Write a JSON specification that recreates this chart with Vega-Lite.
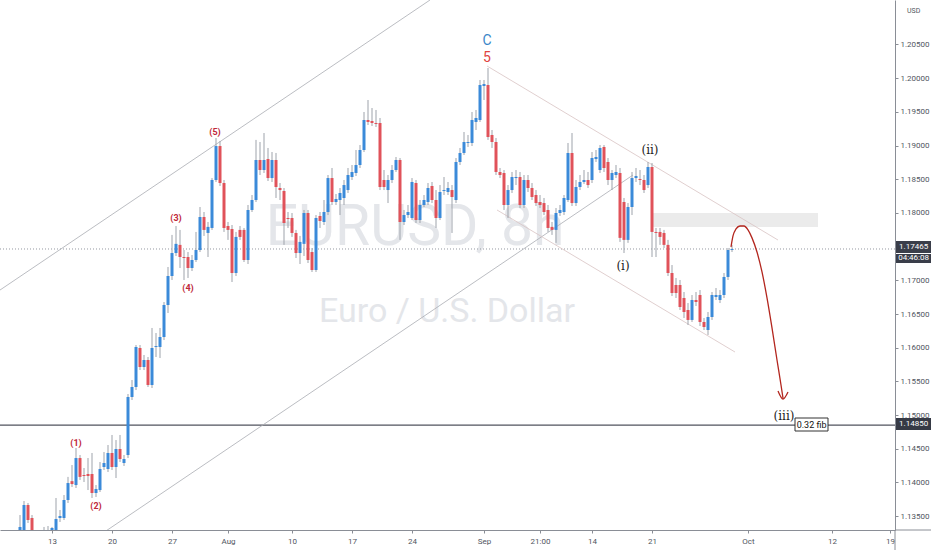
{
"$schema":"https://vega.github.io/schema/vega-lite/v6.json",
"width":895,"height":530,"autosize":{"type":"none"},"padding":{"left":0,"top":0,"right":37,"bottom":20},"background":"white",
"config":{"view":{"stroke":null},"font":"Roboto",
 "axisX":{"title":null,"grid":false,"domainColor":"#8a8e96","tickColor":"#8a8e96","tickSize":3,"labelFontSize":8,"labelColor":"#505560","labelPadding":4,"labelFont":"Roboto"},
 "axisY":{"title":null,"grid":false,"domainColor":"#8a8e96","tickColor":"#8a8e96","tickSize":3,"labelFontSize":8,"labelColor":"#505560","labelPadding":2,"labelFont":"Roboto"}},
"datasets":{
"candles":[
{"i":-8,"o":1.13295,"h":1.13517,"l":1.13221,"c":1.1334},
{"i":-7,"o":1.13295,"h":1.13725,"l":1.1325,"c":1.13666},
{"i":-6,"o":1.13666,"h":1.13696,"l":1.13399,"c":1.13443},
{"i":-5,"o":1.13473,"h":1.13517,"l":1.13146,"c":1.13221},
{"i":-4,"o":1.13221,"h":1.13265,"l":1.12998,"c":1.13072},
{"i":-3,"o":1.13072,"h":1.13221,"l":1.12924,"c":1.13146},
{"i":-2,"o":1.13146,"h":1.1334,"l":1.13072,"c":1.13221},
{"i":-1,"o":1.13206,"h":1.13354,"l":1.13146,"c":1.13265},
{"i":0,"o":1.1325,"h":1.1334,"l":1.13176,"c":1.13325},
{"i":1,"o":1.13295,"h":1.1377,"l":1.1325,"c":1.13458},
{"i":2,"o":1.13473,"h":1.13592,"l":1.13414,"c":1.13503},
{"i":3,"o":1.13473,"h":1.13814,"l":1.13443,"c":1.1374},
{"i":4,"o":1.1374,"h":1.14083,"l":1.13696,"c":1.13992},
{"i":5,"o":1.1402,"h":1.14259,"l":1.13933,"c":1.13977},
{"i":6,"o":1.13962,"h":1.14512,"l":1.13918,"c":1.14363},
{"i":7,"o":1.14363,"h":1.14408,"l":1.14038,"c":1.14083},
{"i":8,"o":1.14111,"h":1.14215,"l":1.14007,"c":1.14096},
{"i":9,"o":1.14126,"h":1.14363,"l":1.13888,"c":1.14096},
{"i":10,"o":1.14126,"h":1.14438,"l":1.1377,"c":1.13844},
{"i":11,"o":1.13844,"h":1.13962,"l":1.13785,"c":1.13903},
{"i":12,"o":1.13888,"h":1.14304,"l":1.13859,"c":1.142},
{"i":13,"o":1.1423,"h":1.14452,"l":1.14185,"c":1.14289},
{"i":14,"o":1.142,"h":1.14556,"l":1.14156,"c":1.14438},
{"i":15,"o":1.14438,"h":1.14705,"l":1.14185,"c":1.1423},
{"i":16,"o":1.1423,"h":1.1463,"l":1.14066,"c":1.14497},
{"i":17,"o":1.14497,"h":1.14705,"l":1.14304,"c":1.14349},
{"i":18,"o":1.14289,"h":1.14408,"l":1.14245,"c":1.14349},
{"i":19,"o":1.14408,"h":1.15313,"l":1.14363,"c":1.15269},
{"i":20,"o":1.15269,"h":1.15521,"l":1.15224,"c":1.15417},
{"i":21,"o":1.15417,"h":1.1604,"l":1.15372,"c":1.16011},
{"i":22,"o":1.15996,"h":1.1604,"l":1.15669,"c":1.15714},
{"i":23,"o":1.15714,"h":1.15892,"l":1.15669,"c":1.15818},
{"i":24,"o":1.15818,"h":1.15862,"l":1.15417,"c":1.15447},
{"i":25,"o":1.15447,"h":1.16293,"l":1.15402,"c":1.15996},
{"i":26,"o":1.16011,"h":1.16218,"l":1.15862,"c":1.16025},
{"i":27,"o":1.16011,"h":1.16293,"l":1.15847,"c":1.16159},
{"i":28,"o":1.16159,"h":1.16678,"l":1.16114,"c":1.16634},
{"i":29,"o":1.16634,"h":1.17198,"l":1.16515,"c":1.17064},
{"i":30,"o":1.17064,"h":1.17674,"l":1.17005,"c":1.17405},
{"i":31,"o":1.17405,"h":1.17806,"l":1.17361,"c":1.17541},
{"i":32,"o":1.17526,"h":1.17748,"l":1.17183,"c":1.17346},
{"i":33,"o":1.17346,"h":1.1745,"l":1.17005,"c":1.17331},
{"i":34,"o":1.17346,"h":1.1742,"l":1.17035,"c":1.17183},
{"i":35,"o":1.17183,"h":1.17376,"l":1.17138,"c":1.17302},
{"i":36,"o":1.17302,"h":1.17718,"l":1.17272,"c":1.1745},
{"i":37,"o":1.1745,"h":1.18088,"l":1.1742,"c":1.1794},
{"i":38,"o":1.1794,"h":1.18014,"l":1.17659,"c":1.17748},
{"i":39,"o":1.17703,"h":1.17866,"l":1.17346,"c":1.17793},
{"i":40,"o":1.17777,"h":1.18518,"l":1.17748,"c":1.18489},
{"i":41,"o":1.18489,"h":1.19112,"l":1.18459,"c":1.18993},
{"i":42,"o":1.18993,"h":1.19068,"l":1.184,"c":1.18444},
{"i":43,"o":1.18444,"h":1.18489,"l":1.17718,"c":1.17777},
{"i":44,"o":1.17806,"h":1.17866,"l":1.176,"c":1.17748},
{"i":45,"o":1.17762,"h":1.17821,"l":1.16975,"c":1.17109},
{"i":46,"o":1.17109,"h":1.17718,"l":1.17064,"c":1.17644},
{"i":47,"o":1.17748,"h":1.17806,"l":1.176,"c":1.17644},
{"i":48,"o":1.17748,"h":1.17777,"l":1.17272,"c":1.17302},
{"i":49,"o":1.17302,"h":1.18118,"l":1.17242,"c":1.18044},
{"i":50,"o":1.18044,"h":1.18266,"l":1.18014,"c":1.18192},
{"i":51,"o":1.18192,"h":1.19084,"l":1.18162,"c":1.18786},
{"i":52,"o":1.18786,"h":1.19053,"l":1.18563,"c":1.18637},
{"i":53,"o":1.18637,"h":1.19186,"l":1.18593,"c":1.18786},
{"i":54,"o":1.188,"h":1.18964,"l":1.18474,"c":1.18518},
{"i":55,"o":1.18518,"h":1.18904,"l":1.18459,"c":1.18786},
{"i":56,"o":1.18786,"h":1.1889,"l":1.18222,"c":1.18385},
{"i":57,"o":1.1837,"h":1.18444,"l":1.18192,"c":1.1834},
{"i":58,"o":1.18326,"h":1.1837,"l":1.17526,"c":1.17851},
{"i":59,"o":1.17925,"h":1.18014,"l":1.17777,"c":1.1791},
{"i":60,"o":1.17925,"h":1.17999,"l":1.17644,"c":1.17703},
{"i":61,"o":1.17703,"h":1.17748,"l":1.17331,"c":1.17405},
{"i":62,"o":1.17405,"h":1.17659,"l":1.17242,"c":1.1757},
{"i":63,"o":1.17541,"h":1.18044,"l":1.17361,"c":1.17999},
{"i":64,"o":1.17999,"h":1.18044,"l":1.17257,"c":1.17302},
{"i":65,"o":1.1742,"h":1.1748,"l":1.17124,"c":1.17153},
{"i":66,"o":1.17153,"h":1.17969,"l":1.17124,"c":1.17925},
{"i":67,"o":1.17955,"h":1.18014,"l":1.17777,"c":1.1788},
{"i":68,"o":1.17866,"h":1.18192,"l":1.17821,"c":1.18014},
{"i":69,"o":1.18014,"h":1.18563,"l":1.17969,"c":1.18518},
{"i":70,"o":1.18518,"h":1.18667,"l":1.18118,"c":1.18162},
{"i":71,"o":1.18162,"h":1.18281,"l":1.18118,"c":1.18207},
{"i":72,"o":1.18192,"h":1.1837,"l":1.17969,"c":1.18296},
{"i":73,"o":1.18222,"h":1.18489,"l":1.18118,"c":1.18414},
{"i":74,"o":1.1834,"h":1.18667,"l":1.18296,"c":1.18563},
{"i":75,"o":1.18533,"h":1.18711,"l":1.18489,"c":1.18608},
{"i":76,"o":1.18593,"h":1.18934,"l":1.18548,"c":1.18711},
{"i":77,"o":1.18711,"h":1.19008,"l":1.18667,"c":1.18934},
{"i":78,"o":1.18934,"h":1.19498,"l":1.18904,"c":1.19379},
{"i":79,"o":1.19379,"h":1.19676,"l":1.19305,"c":1.1935},
{"i":80,"o":1.19364,"h":1.19557,"l":1.1929,"c":1.19335},
{"i":81,"o":1.19335,"h":1.19528,"l":1.19275,"c":1.1932},
{"i":82,"o":1.19335,"h":1.19409,"l":1.1834,"c":1.18385},
{"i":83,"o":1.18489,"h":1.18637,"l":1.1834,"c":1.18385},
{"i":84,"o":1.1834,"h":1.18563,"l":1.18147,"c":1.18489},
{"i":85,"o":1.18489,"h":1.18711,"l":1.18444,"c":1.18637},
{"i":86,"o":1.18637,"h":1.1883,"l":1.18608,"c":1.18786},
{"i":87,"o":1.18786,"h":1.18815,"l":1.176,"c":1.17866},
{"i":88,"o":1.17866,"h":1.18044,"l":1.17821,"c":1.17969},
{"i":89,"o":1.17969,"h":1.18118,"l":1.17925,"c":1.18014},
{"i":90,"o":1.17925,"h":1.18518,"l":1.17895,"c":1.18459},
{"i":91,"o":1.18444,"h":1.18489,"l":1.17851,"c":1.17895},
{"i":92,"o":1.17895,"h":1.18192,"l":1.17851,"c":1.18118},
{"i":93,"o":1.18118,"h":1.18266,"l":1.18088,"c":1.18192},
{"i":94,"o":1.18162,"h":1.18444,"l":1.18118,"c":1.1837},
{"i":95,"o":1.184,"h":1.18459,"l":1.18147,"c":1.18192},
{"i":96,"o":1.18192,"h":1.1834,"l":1.17777,"c":1.17925},
{"i":97,"o":1.17925,"h":1.18414,"l":1.17895,"c":1.18311},
{"i":98,"o":1.18326,"h":1.18533,"l":1.18266,"c":1.1834},
{"i":99,"o":1.18311,"h":1.18459,"l":1.18266,"c":1.1837},
{"i":100,"o":1.1834,"h":1.18414,"l":1.17703,"c":1.18237},
{"i":101,"o":1.18192,"h":1.18815,"l":1.18147,"c":1.18756},
{"i":102,"o":1.18756,"h":1.18964,"l":1.18711,"c":1.1889},
{"i":103,"o":1.1889,"h":1.19201,"l":1.1886,"c":1.19053},
{"i":104,"o":1.19038,"h":1.19157,"l":1.18979,"c":1.19053},
{"i":105,"o":1.19038,"h":1.19498,"l":1.18993,"c":1.19379},
{"i":106,"o":1.1935,"h":1.19528,"l":1.19231,"c":1.19409},
{"i":107,"o":1.19379,"h":1.19973,"l":1.1935,"c":1.19899},
{"i":108,"o":1.19884,"h":1.19973,"l":1.19676,"c":1.19913},
{"i":109,"o":1.19899,"h":1.20151,"l":1.19084,"c":1.19127},
{"i":110,"o":1.19157,"h":1.19231,"l":1.18964,"c":1.19053},
{"i":111,"o":1.19053,"h":1.19112,"l":1.18563,"c":1.18608},
{"i":112,"o":1.18608,"h":1.18667,"l":1.18518,"c":1.18563},
{"i":113,"o":1.18593,"h":1.18637,"l":1.18044,"c":1.18118},
{"i":114,"o":1.18118,"h":1.18414,"l":1.17925,"c":1.1834},
{"i":115,"o":1.1834,"h":1.18608,"l":1.18296,"c":1.18533},
{"i":116,"o":1.18518,"h":1.18637,"l":1.18414,"c":1.18533},
{"i":117,"o":1.18533,"h":1.18608,"l":1.18073,"c":1.18118},
{"i":118,"o":1.18118,"h":1.18563,"l":1.18073,"c":1.18489},
{"i":119,"o":1.18489,"h":1.18563,"l":1.18311,"c":1.1837},
{"i":120,"o":1.1837,"h":1.18444,"l":1.18192,"c":1.18237},
{"i":121,"o":1.18266,"h":1.1834,"l":1.18103,"c":1.18147},
{"i":122,"o":1.18162,"h":1.18266,"l":1.18073,"c":1.18118},
{"i":123,"o":1.18147,"h":1.18222,"l":1.17969,"c":1.18014},
{"i":124,"o":1.18044,"h":1.18118,"l":1.17718,"c":1.17777},
{"i":125,"o":1.17793,"h":1.17866,"l":1.17674,"c":1.17748},
{"i":126,"o":1.17748,"h":1.18073,"l":1.17556,"c":1.17999},
{"i":127,"o":1.17999,"h":1.18118,"l":1.17955,"c":1.18044},
{"i":128,"o":1.18014,"h":1.18266,"l":1.17969,"c":1.18222},
{"i":129,"o":1.18192,"h":1.19038,"l":1.18162,"c":1.1889},
{"i":130,"o":1.1889,"h":1.19186,"l":1.18103,"c":1.18147},
{"i":131,"o":1.18147,"h":1.18489,"l":1.18103,"c":1.18385},
{"i":132,"o":1.18385,"h":1.18563,"l":1.1834,"c":1.18459},
{"i":133,"o":1.18459,"h":1.18637,"l":1.18429,"c":1.18489},
{"i":134,"o":1.18489,"h":1.18608,"l":1.1837,"c":1.18414},
{"i":135,"o":1.18489,"h":1.18904,"l":1.18444,"c":1.18815},
{"i":136,"o":1.188,"h":1.18934,"l":1.18756,"c":1.1883},
{"i":137,"o":1.18637,"h":1.19008,"l":1.18593,"c":1.18964},
{"i":138,"o":1.18979,"h":1.19008,"l":1.18608,"c":1.18667},
{"i":139,"o":1.18756,"h":1.18815,"l":1.18414,"c":1.18489},
{"i":140,"o":1.18489,"h":1.18637,"l":1.1834,"c":1.18593},
{"i":141,"o":1.18563,"h":1.18711,"l":1.18518,"c":1.18608},
{"i":142,"o":1.18593,"h":1.18667,"l":1.1757,"c":1.1763},
{"i":143,"o":1.18162,"h":1.18222,"l":1.17405,"c":1.176},
{"i":144,"o":1.176,"h":1.18147,"l":1.17556,"c":1.18088},
{"i":145,"o":1.18088,"h":1.18608,"l":1.17969,"c":1.18518},
{"i":146,"o":1.18518,"h":1.18667,"l":1.18459,"c":1.18548},
{"i":147,"o":1.18504,"h":1.18637,"l":1.18414,"c":1.18489},
{"i":148,"o":1.18489,"h":1.18563,"l":1.18296,"c":1.1834},
{"i":149,"o":1.18414,"h":1.18756,"l":1.1837,"c":1.18682},
{"i":150,"o":1.18682,"h":1.18741,"l":1.17346,"c":1.17718},
{"i":151,"o":1.17718,"h":1.17777,"l":1.17346,"c":1.17703},
{"i":152,"o":1.17718,"h":1.17777,"l":1.17526,"c":1.17644},
{"i":153,"o":1.17703,"h":1.17748,"l":1.1748,"c":1.17526},
{"i":154,"o":1.17526,"h":1.176,"l":1.17064,"c":1.17109},
{"i":155,"o":1.17109,"h":1.17227,"l":1.16767,"c":1.16812},
{"i":156,"o":1.16931,"h":1.17035,"l":1.16738,"c":1.16812},
{"i":157,"o":1.16931,"h":1.17005,"l":1.1656,"c":1.16604},
{"i":158,"o":1.16738,"h":1.16827,"l":1.16441,"c":1.1653},
{"i":159,"o":1.1656,"h":1.16663,"l":1.16337,"c":1.16412},
{"i":160,"o":1.16412,"h":1.16782,"l":1.16382,"c":1.16708},
{"i":161,"o":1.16708,"h":1.16827,"l":1.16619,"c":1.16678},
{"i":162,"o":1.16782,"h":1.16856,"l":1.16322,"c":1.16382},
{"i":163,"o":1.16382,"h":1.16441,"l":1.16263,"c":1.16307},
{"i":164,"o":1.16263,"h":1.1653,"l":1.16189,"c":1.16456},
{"i":165,"o":1.16456,"h":1.16827,"l":1.16412,"c":1.16782},
{"i":166,"o":1.16753,"h":1.16886,"l":1.16708,"c":1.16782},
{"i":167,"o":1.16708,"h":1.16856,"l":1.16663,"c":1.16782},
{"i":168,"o":1.16782,"h":1.17109,"l":1.16738,"c":1.1705},
{"i":169,"o":1.1705,"h":1.1748,"l":1.17005,"c":1.1745},
{"i":170,"o":1.1745,"h":1.17526,"l":1.1742,"c":1.17465}
],
"trend":[
{"g":"up1","i":-13,"p":1.16856},{"g":"up1","i":94.5,"p":1.2116},
{"g":"up2","i":12,"p":1.13221},{"g":"up2","i":145.25,"p":1.18563},
{"g":"dn1","i":108.75,"p":1.20181},{"g":"dn1","i":181.5,"p":1.17598},
{"g":"dn2","i":111.25,"p":1.18044},{"g":"dn2","i":170.75,"p":1.15936}
],
"arrow":[
{"g":"a","i":169.75,"p":1.17495},{"g":"a","i":170.25,"p":1.17659},{"g":"a","i":171,"p":1.17762},{"g":"a","i":172,"p":1.17806},{"g":"a","i":173,"p":1.17806},{"g":"a","i":174,"p":1.17748},{"g":"a","i":175,"p":1.1763},{"g":"a","i":176.25,"p":1.1742},{"g":"a","i":177.5,"p":1.17124},{"g":"a","i":178.75,"p":1.16738},{"g":"a","i":180,"p":1.16293},{"g":"a","i":181.25,"p":1.15818},{"g":"a","i":182.25,"p":1.15447},{"g":"a","i":182.75,"p":1.15253},
{"g":"h","i":181.5,"p":1.15358},{"g":"h","i":182.75,"p":1.15239},{"g":"h","i":184,"p":1.15343}
],
"redwave":[
{"t":"(5)","i":40.75,"p":1.19201},{"t":"(3)","i":31,"p":1.17925},{"t":"(4)","i":34,"p":1.16886},{"t":"(1)","i":6,"p":1.14586},{"t":"(2)","i":11,"p":1.13651}
],
"blackwave":[
{"t":"(ii)","i":149.5,"p":1.18934},{"t":"(i)","i":142.75,"p":1.17213},{"t":"(iii)","i":183,"p":1.14987}
]
},
"layer":[
{"data":{"values":[{"t":"EURUSD, 8h","i":90.75,"p":1.17777,"s":57},{"t":"Euro / U.S. Dollar","i":98.75,"p":1.1653,"s":34}]},
 "mark":{"type":"text","color":"#e4e6ea","align":"center","baseline":"middle","font":"Roboto"},
 "encoding":{"x":{"field":"i","type":"quantitative","scale":{"domain":[-13,210.75],"nice":false,"zero":false,"padding":0},
   "axis":{"title":null,"values":[0,15,30,44,60,75,90,108,122,135,150,174,195,209.5],
     "labelExpr":"['13','20','27','Aug','10','17','24','Sep','21:00','14','21','Oct','12','19'][indexof([0,15,30,44,60,75,90,108,122,135,150,174,195,209.5], datum.value)]"}},
  "y":{"field":"p","type":"quantitative","scale":{"domain":[1.13295,1.2116],"nice":false,"zero":false,"padding":0},
   "axis":{"title":null,"orient":"right","values":[1.135,1.14,1.145,1.15,1.155,1.16,1.165,1.17,1.18,1.185,1.19,1.195,1.2,1.205],"format":".5f"}},
  "text":{"field":"t"},"size":{"field":"s","type":"quantitative","scale":null}}},
{"data":{"values":[{"i1":150.25,"i2":191.5,"p1":1.17999,"p2":1.17792}]},
 "mark":{"type":"rect","color":"#ebebeb"},
 "encoding":{"x":{"field":"i1","type":"quantitative","axis":{"title":null}},"x2":{"field":"i2"},"y":{"field":"p1","type":"quantitative","axis":{"title":null}},"y2":{"field":"p2"}}},
{"data":{"values":[{"p":1.17465}]},"mark":{"type":"rule","color":"#9598a1","strokeDash":[1,2],"strokeWidth":1},"encoding":{"y":{"field":"p","type":"quantitative","axis":{"title":null}}}},
{"data":{"values":[{"p":1.1485}]},"mark":{"type":"rule","color":"#50535e","strokeWidth":1.3},"encoding":{"y":{"field":"p","type":"quantitative","axis":{"title":null}}}},
{"data":{"values":[{"i1":210.75,"i2":219.75,"p1":1.13295,"p2":1.13295},{"i1":210.75,"i2":210.75,"p1":1.13295,"p2":1.12998}]},
 "mark":{"type":"rule","color":"#8a8e96","strokeWidth":1,"clip":false},
 "encoding":{"x":{"field":"i1","type":"quantitative","axis":{"title":null}},"x2":{"field":"i2"},"y":{"field":"p1","type":"quantitative","axis":{"title":null}},"y2":{"field":"p2"}}},
{"data":{"name":"trend"},
 "mark":{"type":"line","strokeWidth":0.8,"clip":true},
 "encoding":{"x":{"field":"i","type":"quantitative","axis":{"title":null}},"y":{"field":"p","type":"quantitative","axis":{"title":null}},"detail":{"field":"g"},
  "color":{"field":"g","type":"nominal","legend":null,"scale":{"domain":["up1","up2","dn1","dn2"],"range":["#a9acb3","#a9acb3","#d8c3c3","#d8c3c3"]}}}},
{"data":{"name":"candles"},
 "mark":{"type":"rule","strokeWidth":1,"color":"#9ea3ab","clip":true},
 "encoding":{"x":{"field":"i","type":"quantitative","axis":{"title":null}},"y":{"field":"l","type":"quantitative","axis":{"title":null}},"y2":{"field":"h"}}},
{"data":{"name":"candles"},
 "mark":{"type":"bar","size":3,"clip":true},
 "encoding":{"x":{"field":"i","type":"quantitative","axis":{"title":null}},"y":{"field":"o","type":"quantitative","axis":{"title":null}},"y2":{"field":"c"},
  "color":{"condition":{"test":"datum.c >= datum.o","value":"#3b8ad9"},"value":"#e0525a"}}},
{"data":{"name":"arrow"},
 "mark":{"type":"line","color":"#b3261e","strokeWidth":1.3,"interpolate":"monotone"},
 "encoding":{"x":{"field":"i","type":"quantitative","axis":{"title":null}},"y":{"field":"p","type":"quantitative","axis":{"title":null}},"detail":{"field":"g"}}},
{"data":{"name":"redwave"},
 "mark":{"type":"text","color":"#c0283a","fontSize":9,"fontWeight":"bold","align":"center","baseline":"middle"},
 "encoding":{"x":{"field":"i","type":"quantitative","axis":{"title":null}},"y":{"field":"p","type":"quantitative","axis":{"title":null}},"text":{"field":"t"}}},
{"data":{"name":"blackwave"},
 "mark":{"type":"text","color":"#222222","fontSize":12,"align":"center","baseline":"middle","font":"DejaVu Serif"},
 "encoding":{"x":{"field":"i","type":"quantitative","axis":{"title":null}},"y":{"field":"p","type":"quantitative","axis":{"title":null}},"text":{"field":"t"}}},
{"data":{"values":[{"t":"C","i":108.75,"p":1.20552,"c":"#3a86c8"},{"t":"5","i":108.75,"p":1.20299,"c":"#e0443f"}]},
 "mark":{"type":"text","fontSize":14,"align":"center","baseline":"middle"},
 "encoding":{"x":{"field":"i","type":"quantitative","axis":{"title":null}},"y":{"field":"p","type":"quantitative","axis":{"title":null}},"text":{"field":"t"},"color":{"field":"c","type":"nominal","scale":null}}},
{"data":{"values":[{"i1":185.75,"i2":194,"p1":1.14957,"p2":1.14764}]},
 "mark":{"type":"rect","fill":"white","stroke":"#333333","strokeWidth":1},
 "encoding":{"x":{"field":"i1","type":"quantitative","axis":{"title":null}},"x2":{"field":"i2"},"y":{"field":"p1","type":"quantitative","axis":{"title":null}},"y2":{"field":"p2"}}},
{"data":{"values":[{"t":"0.32 fib","i":189.9,"p":1.1486}]},
 "mark":{"type":"text","fontSize":9,"color":"#111111","align":"center","baseline":"middle"},
 "encoding":{"x":{"field":"i","type":"quantitative","axis":{"title":null}},"y":{"field":"p","type":"quantitative","axis":{"title":null}},"text":{"field":"t"}}},
{"data":{"values":[{"i1":211,"i2":219.75,"p1":1.17584,"p2":1.17406,"c":"#3a3e4a"},{"i1":211,"i2":219.75,"p1":1.17391,"p2":1.17257,"c":"#3a3e4a"},{"i1":211,"i2":219.75,"p1":1.14957,"p2":1.14779,"c":"#363a45"}]},
 "mark":{"type":"rect","clip":false},
 "encoding":{"x":{"field":"i1","type":"quantitative","axis":{"title":null}},"x2":{"field":"i2"},"y":{"field":"p1","type":"quantitative","axis":{"title":null}},"y2":{"field":"p2"},"color":{"field":"c","type":"nominal","scale":null}}},
{"data":{"values":[{"t":"1.17465","i":215.4,"p":1.17495},{"t":"04:46:08","i":215.4,"p":1.17324},{"t":"1.14850","i":215.4,"p":1.14868}]},
 "mark":{"type":"text","fontSize":8,"color":"white","align":"center","baseline":"middle"},
 "encoding":{"x":{"field":"i","type":"quantitative","axis":{"title":null}},"y":{"field":"p","type":"quantitative","axis":{"title":null}},"text":{"field":"t"}}},
{"data":{"values":[{"t":"USD","i":215.4,"p":1.21}]},
 "mark":{"type":"text","fontSize":7,"color":"#505560","align":"center","baseline":"middle"},
 "encoding":{"x":{"field":"i","type":"quantitative","axis":{"title":null}},"y":{"field":"p","type":"quantitative","axis":{"title":null}},"text":{"field":"t"}}}
]
}
